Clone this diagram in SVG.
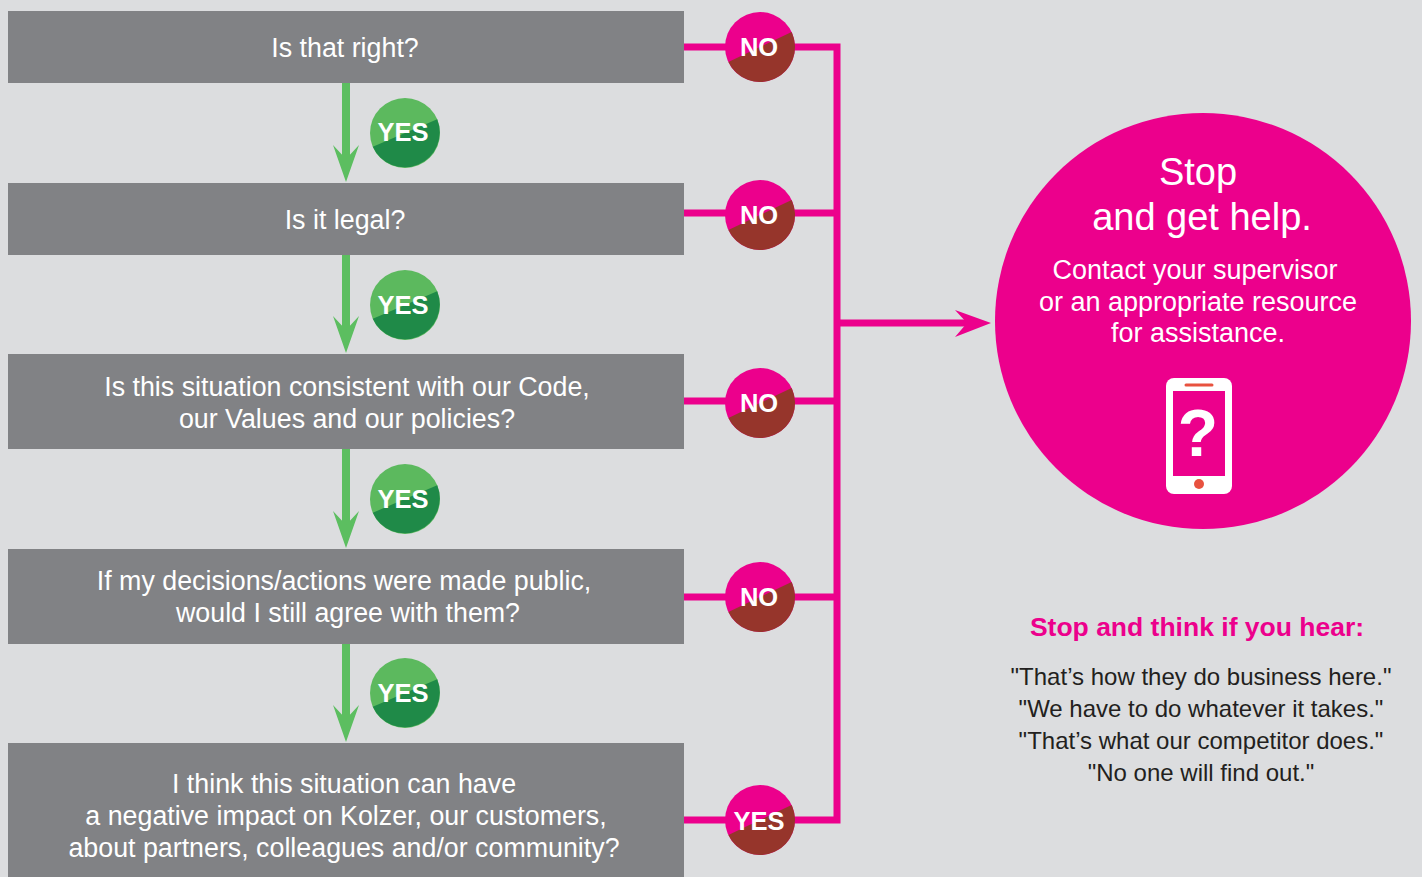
<svg xmlns="http://www.w3.org/2000/svg" xmlns:xlink="http://www.w3.org/1999/xlink" width="1422" height="877" viewBox="0 0 1422 877">
<style>
.box{fill:#818285}
.bt{font-family:"Liberation Sans",Arial,sans-serif;font-size:26.8px;fill:#ffffff;text-anchor:middle}
.badge{font-family:"Liberation Sans",Arial,sans-serif;font-weight:bold;font-size:25.5px;fill:#ffffff;text-anchor:middle}
.pink{stroke:#EC008C;stroke-width:7;fill:none}
.green{stroke:#5CBE60;stroke-width:8;fill:none}
.ct{font-family:"Liberation Sans",Arial,sans-serif;fill:#ffffff;text-anchor:middle}
.q{font-family:"Liberation Sans",Arial,sans-serif;font-size:24px;fill:#231F20;text-anchor:middle}
</style>
<defs>
<g id="noB">
<circle r="35" fill="#EC008C"/>
<path d="M-31.6,15.1 L31.6,-15.1 A35,35 0 0 1 -31.6,15.1 Z" fill="#96352B"/>
</g>
<g id="yesB">
<circle r="35" fill="#5CB95E"/>
<path d="M-32.2,13.7 L32.2,-13.7 A35,35 0 0 1 -32.2,13.7 Z" fill="#1F8A48"/>
</g>
<polygon id="gHead" points="0,37 -13,0 0,14 13,0" fill="#5CBE60"/>
</defs>
<rect width="1422" height="877" fill="#DCDDDF"/>

<g id="connectors">
<path class="pink" d="M684,47 H837 V820 H684"/>
<path class="pink" d="M684,213 H837 M684,401 H837 M684,597 H837 M837,323 H968"/>
<polygon points="991,323 955,310 967,323 955,337" fill="#EC008C"/>
<path class="green" d="M346,83 V165 M346,255 V336 M346,449 V531 M346,644 V725"/>
<use xlink:href="#gHead" href="#gHead" x="346" y="145"/>
<use xlink:href="#gHead" href="#gHead" x="346" y="316"/>
<use xlink:href="#gHead" href="#gHead" x="346" y="511"/>
<use xlink:href="#gHead" href="#gHead" x="346" y="705"/>
</g>

<g id="q1"><rect class="box" x="8" y="11" width="676" height="72"/><text class="bt" x="345" y="57">Is that right?</text></g>
<g id="q2"><rect class="box" x="8" y="183" width="676" height="72"/><text class="bt" x="345" y="229">Is it legal?</text></g>
<g id="q3"><rect class="box" x="8" y="354" width="676" height="95"/><text class="bt" x="347" y="396">Is this situation consistent with our Code,</text><text class="bt" x="347" y="428">our Values and our policies?</text></g>
<g id="q4"><rect class="box" x="8" y="549" width="676" height="95"/><text class="bt" x="344" y="590">If my decisions/actions were made public,</text><text class="bt" x="348" y="622">would I still agree with them?</text></g>
<g id="q5"><rect class="box" x="8" y="743" width="676" height="134"/><text class="bt" x="344" y="793">I think this situation can have</text><text class="bt" x="346" y="825">a negative impact on Kolzer, our customers,</text><text class="bt" x="344" y="857">about partners, colleagues and/or community?</text></g>

<g id="yes1"><use xlink:href="#yesB" href="#yesB" x="405" y="133"/><text class="badge" x="403" y="141">YES</text></g>
<g id="yes2"><use xlink:href="#yesB" href="#yesB" x="405" y="305"/><text class="badge" x="403" y="314">YES</text></g>
<g id="yes3"><use xlink:href="#yesB" href="#yesB" x="405" y="499"/><text class="badge" x="403" y="508">YES</text></g>
<g id="yes4"><use xlink:href="#yesB" href="#yesB" x="405" y="693"/><text class="badge" x="403" y="702">YES</text></g>

<g id="no1"><use xlink:href="#noB" href="#noB" x="760" y="47"/><text class="badge" x="759" y="56">NO</text></g>
<g id="no2"><use xlink:href="#noB" href="#noB" x="760" y="215"/><text class="badge" x="759" y="224">NO</text></g>
<g id="no3"><use xlink:href="#noB" href="#noB" x="760" y="403"/><text class="badge" x="759" y="412">NO</text></g>
<g id="no4"><use xlink:href="#noB" href="#noB" x="760" y="597"/><text class="badge" x="759" y="606">NO</text></g>
<g id="yes5"><use xlink:href="#noB" href="#noB" x="760" y="820"/><text class="badge" x="759" y="830">YES</text></g>

<g id="help">
<circle cx="1203" cy="321" r="208" fill="#EC008C"/>
<text class="ct" x="1198" y="185" font-size="38">Stop</text>
<text class="ct" x="1202" y="230" font-size="38">and get help.</text>
<text class="ct" x="1195" y="279" font-size="27">Contact your supervisor</text>
<text class="ct" x="1198" y="311" font-size="27">or an appropriate resource</text>
<text class="ct" x="1198" y="342" font-size="27">for assistance.</text>
<rect x="1166" y="378" width="66" height="116" rx="8" fill="#ffffff"/>
<rect x="1173" y="391" width="52" height="85" fill="#EC008C"/>
<line x1="1186" y1="385" x2="1212" y2="385" stroke="#E8523F" stroke-width="3" stroke-linecap="round"/>
<circle cx="1199" cy="484" r="5" fill="#E8523F"/>
<text x="1198" y="456" font-family="'Liberation Sans',Arial,sans-serif" font-weight="bold" font-size="66" fill="#ffffff" text-anchor="middle">?</text>
</g>

<g id="think">
<text x="1197" y="636" font-family="'Liberation Sans',Arial,sans-serif" font-weight="bold" font-size="26.5" fill="#EC008C" text-anchor="middle">Stop and think if you hear:</text>
<text class="q" x="1201" y="685">"That’s how they do business here."</text>
<text class="q" x="1201" y="717">"We have to do whatever it takes."</text>
<text class="q" x="1201" y="749">"That’s what our competitor does."</text>
<text class="q" x="1201" y="781">"No one will find out."</text>
</g>
</svg>
